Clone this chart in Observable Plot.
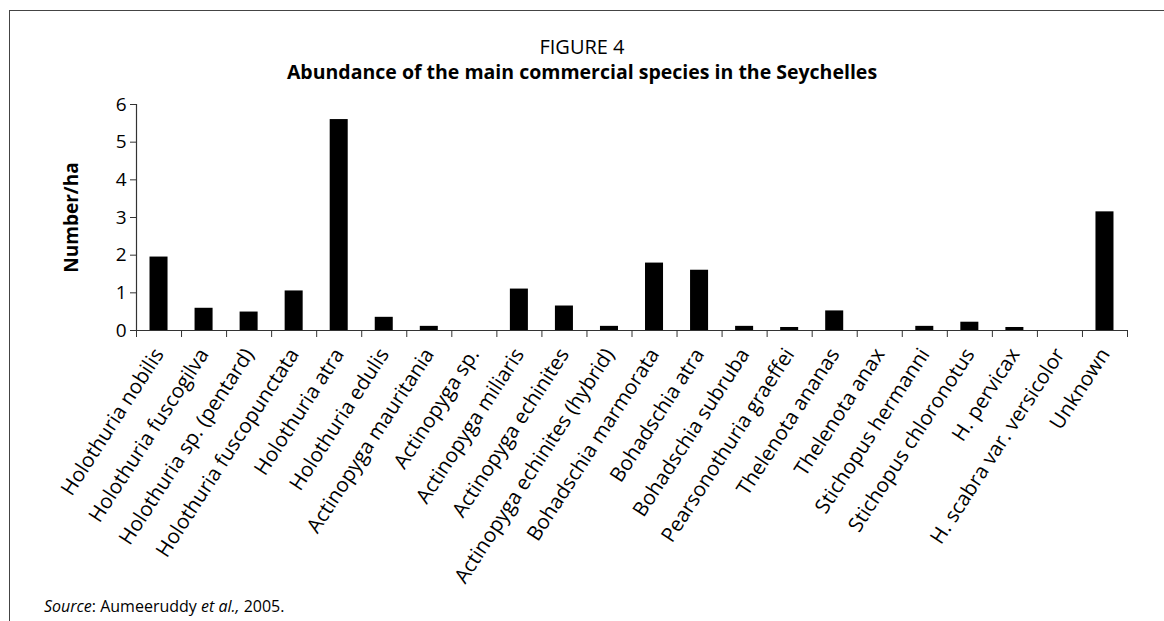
<!DOCTYPE html>
<html>
<head>
<meta charset="utf-8">
<script src="https://cdn.jsdelivr.net/npm/d3@7"></script>
<script src="https://cdn.jsdelivr.net/npm/@observablehq/plot@0.6"></script>
<style>
  html, body { margin: 0; padding: 0; background: #fff; }
  body { width: 1164px; height: 621px; position: relative; overflow: hidden; font-family: "Open Sans", "Noto Sans", sans-serif; color: #000; }
  #frame { position: absolute; left: 9px; top: 10px; width: 1200px; height: 700px; border-left: 1px solid #444; border-top: 1px solid #444; }
  #fig { position: absolute; left: 0; top: 35px; width: 1164px; text-align: center; font-size: 20px; line-height: 24px; }
  #title { position: absolute; left: 0; top: 60px; width: 1164px; text-align: center; font-size: 19.5px; font-weight: bold; line-height: 24px; }
  #chart { position: absolute; left: 0; top: 85px; }
  #caption { position: absolute; left: 44px; top: 596px; font-size: 16px; line-height: 20px; }
  #chart svg g[aria-label="y-axis label"] text { font-weight: bold; }
</style>
</head>
<body>
<div id="frame"></div>
<div id="fig">FIGURE 4</div>
<div id="title">Abundance of the main commercial species in the Seychelles</div>
<div id="chart"></div>
<div id="caption"><i>Source</i>: Aumeeruddy <i>et al.,</i> 2005.</div>
<script>
const categories = [
  "Holothuria nobilis",
  "Holothuria fuscogilva",
  "Holothuria sp. (pentard)",
  "Holothuria fuscopunctata",
  "Holothuria atra",
  "Holothuria edulis",
  "Actinopyga mauritania",
  "Actinopyga sp.",
  "Actinopyga miliaris",
  "Actinopyga echinites",
  "Actinopyga echinites (hybrid)",
  "Bohadschia marmorata",
  "Bohadschia atra",
  "Bohadschia subruba",
  "Pearsonothuria graeffei",
  "Thelenota ananas",
  "Thelenota anax",
  "Stichopus hermanni",
  "Stichopus chloronotus",
  "H. pervicax",
  "H. scabra var. versicolor",
  "Unknown"
];
const values = [1.95, 0.59, 0.49, 1.05, 5.6, 0.35, 0.11, 0, 1.10, 0.65, 0.11, 1.79, 1.60, 0.11, 0.08, 0.52, 0, 0.11, 0.22, 0.08, 0, 3.15];
const yTicks = [0, 1, 2, 3, 4, 5, 6];
const yLabel = "Number/ha";

const data = categories.map((name, i) => ({name, i, value: values[i]}));
const n = categories.length;

const chart = Plot.plot({
  width: 1164,
  height: 500,
  marginLeft: 136,
  marginRight: 37,
  marginTop: 19,
  marginBottom: 255,
  style: { fontFamily: "'Open Sans', 'Noto Sans', sans-serif", fontSize: "19px", color: "#000", background: "transparent", overflow: "visible" },
  x: { type: "linear", domain: [0, n], axis: null },
  y: { domain: [0, 6], axis: null },
  marks: [
    Plot.rectY(data, { x1: d => d.i + 0.3, x2: d => d.i + 0.7, y1: 0, y2: "value", fill: "#000" }),
    Plot.axisY(yTicks, {
      tickSize: 6, tickPadding: 4, tickFormat: d3.format("d"), stroke: "#333", fontSize: 19,
      label: yLabel, labelAnchor: "center", labelOffset: 72, labelArrow: "none"
    }),
    Plot.ruleX([0], { stroke: "#333", strokeWidth: 1.2 }),
    Plot.ruleY([0], { stroke: "#333", strokeWidth: 1.2 }),
    Plot.axisX(d3.range(n + 1), { tickSize: 7, tickFormat: () => "", stroke: "#333", label: null }),
    Plot.axisX(d3.range(n).map(i => i + 0.5), {
      tickSize: 0,
      tickPadding: 20,
      tickRotate: -57,
      tickFormat: d => categories[Math.floor(d)],
      fontSize: 20.5,
      label: null
    })
  ]
});
document.getElementById("chart").appendChild(chart);
</script>
</body>
</html>
